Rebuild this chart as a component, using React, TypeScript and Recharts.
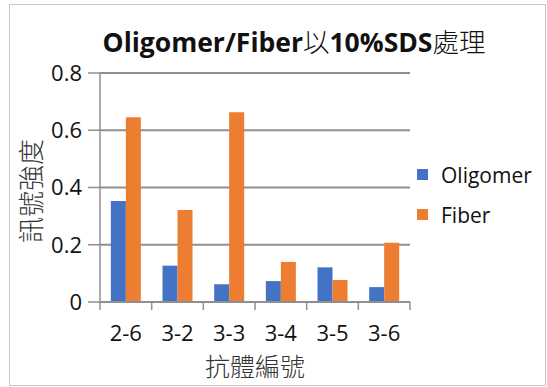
import React from "react";
import {
  BarChart,
  Bar,
  XAxis,
  YAxis,
  CartesianGrid,
  Legend,
} from "recharts";

const categories = ["2-6", "3-2", "3-3", "3-4", "3-5", "3-6"];
const oligomer = [0.353, 0.127, 0.062, 0.073, 0.121, 0.052];
const fiber = [0.645, 0.321, 0.663, 0.14, 0.077, 0.207];
const yTicks = [0, 0.2, 0.4, 0.6, 0.8];

const W = 547;
const H = 387;
const MARGIN = { top: 73, right: 137, bottom: 45, left: 40 };
const Y_AXIS_W = 60;
const X_AXIS_H = 40;
const PLOT_W = W - MARGIN.left - MARGIN.right - Y_AXIS_W;
const AXIS_Y = H - MARGIN.bottom - X_AXIS_H;

const LATIN = "'Open Sans', 'Noto Sans', sans-serif";
const CJK = "'Noto Sans CJK TC', sans-serif";
const GRID = "#8f8f8f";

const data = categories.map((name, i) => ({
  name,
  Oligomer: oligomer[i],
  Fiber: fiber[i],
}));

// category label plus Excel-style tick marks between categories
function CategoryTick(props: any) {
  const { x, payload, index } = props;
  const step = PLOT_W / categories.length;
  const left = x - step / 2;
  return (
    <g>
      <line x1={left} x2={left} y1={AXIS_Y} y2={AXIS_Y + 8} stroke={GRID} strokeWidth={1.5} />
      {index === categories.length - 1 && (
        <line
          x1={x + step / 2}
          x2={x + step / 2}
          y1={AXIS_Y}
          y2={AXIS_Y + 8}
          stroke={GRID}
          strokeWidth={1.5}
        />
      )}
      <text
        x={x}
        y={AXIS_Y + 39}
        textAnchor="middle"
        fontSize={22}
        fontFamily={LATIN}
        fill="#111"
      >
        {payload.value}
      </text>
    </g>
  );
}

// stacked legend entries, in series order
function LegendList(props: any) {
  const items = [...(props.payload || [])].sort(
    (a: any, b: any) =>
      ["Oligomer", "Fiber"].indexOf(a.value) - ["Oligomer", "Fiber"].indexOf(b.value)
  );
  return (
    <div style={{ display: "flex", flexDirection: "column", gap: 13 }}>
      {items.map((it: any) => (
        <div key={it.value} style={{ display: "flex", alignItems: "center", height: 27 }}>
          <span
            style={{ width: 11, height: 11, background: it.color, display: "inline-block" }}
          />
          <span
            style={{ marginLeft: 13, fontSize: 21, color: "#111", fontFamily: LATIN }}
          >
            {it.value}
          </span>
        </div>
      ))}
    </div>
  );
}

export default function App() {
  return (
    <div
      style={{
        position: "fixed",
        left: 0,
        top: 0,
        width: W,
        height: H,
        background: "#fff",
      }}
    >
      <div
        style={{
          position: "absolute",
          left: 9,
          top: 4,
          width: 535,
          height: 380,
          border: "1.5px solid #c8c8c8",
        }}
      />
      <BarChart
        width={W}
        height={H}
        data={data}
        margin={MARGIN}
        barGap={0}
        barCategoryGap="21%"
        style={{ position: "absolute", left: 0, top: 0 }}
      >
        <text
          x={294}
          y={52}
          textAnchor="middle"
          fontSize={26.5}
          fontWeight="bold"
          fill="#111"
          fontFamily={LATIN}
        >
          Oligomer/Fiber
          <tspan fontFamily={CJK} fontWeight={300}>以</tspan>
          10%SDS
          <tspan fontFamily={CJK} fontWeight={300}>處理</tspan>
        </text>
        <CartesianGrid vertical={false} stroke={GRID} strokeWidth={2} />
        <XAxis
          dataKey="name"
          height={X_AXIS_H}
          axisLine={{ stroke: GRID, strokeWidth: 2 }}
          tickLine={false}
          tick={<CategoryTick />}
          interval={0}
        />
        <YAxis
          width={Y_AXIS_W}
          domain={[0, 0.8]}
          ticks={yTicks}
          tickFormatter={(v: number) => (v === 0 ? "0" : v.toFixed(1))}
          tickSize={12}
          tickMargin={6}
          axisLine={{ stroke: GRID, strokeWidth: 1.5 }}
          tickLine={{ stroke: GRID, strokeWidth: 1.5 }}
          tick={{ fontSize: 22, fill: "#111", fontFamily: LATIN }}
        />
        <Bar dataKey="Oligomer" fill="#4472C4" isAnimationActive={false} />
        <Bar dataKey="Fiber" fill="#ED7D31" isAnimationActive={false} />
        <Legend
          layout="horizontal"
          verticalAlign="middle"
          align="center"
          content={<LegendList />}
          wrapperStyle={{ left: 417, top: 161, width: 128 }}
        />
        <text
          x={255}
          y={376}
          textAnchor="middle"
          fontSize={25}
          fontWeight={300}
          fill="#333"
          fontFamily={CJK}
        >
          抗體編號
        </text>
        <text
          x={0}
          y={0}
          transform="translate(41, 191) rotate(-90)"
          textAnchor="middle"
          fontSize={26}
          fontWeight={300}
          fill="#333"
          fontFamily={CJK}
        >
          訊號強度
        </text>
      </BarChart>
    </div>
  );
}
